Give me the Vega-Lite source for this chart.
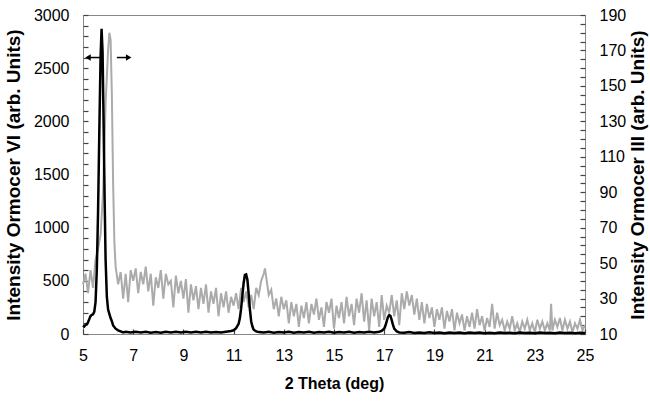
{
  "$schema": "https://vega.github.io/schema/vega-lite/v6.json",
  "width": 502,
  "height": 319,
  "autosize": "none",
  "padding": {"left": 83, "top": 15, "right": 65, "bottom": 67},
  "config": {
    "font": "Liberation Sans",
    "view": {"stroke": "#888888", "strokeWidth": 1},
    "axis": {"labelFont": "Liberation Sans", "titleFont": "Liberation Sans", "labelColor": "#000000", "titleColor": "#000000", "domain": false, "ticks": true, "tickColor": "#444444", "tickWidth": 1.2, "tickSize": 5, "offset": -5, "grid": false, "labelOverlap": false, "labelFlush": false, "format": "d"}
  },
  "datasets": {
    "ormocer_iii": [
      {"t":5.0,"i":38},{"t":5.1,"i":44},{"t":5.2,"i":33},{"t":5.3,"i":46},{"t":5.4,"i":36},{"t":5.5,"i":52},{"t":5.6,"i":58},{"t":5.7,"i":66},{"t":5.8,"i":90},{"t":5.9,"i":140},{"t":6.0,"i":170},{"t":6.05,"i":180},{"t":6.1,"i":176},{"t":6.15,"i":145},{"t":6.2,"i":95},{"t":6.25,"i":62},{"t":6.3,"i":48},{"t":6.4,"i":38},{"t":6.5,"i":45},{"t":6.6,"i":30},{"t":6.7,"i":44},{"t":6.8,"i":28},{"t":6.9,"i":46},{"t":7.0,"i":40},{"t":7.1,"i":47},{"t":7.2,"i":33},{"t":7.3,"i":45},{"t":7.4,"i":38},{"t":7.5,"i":48},{"t":7.6,"i":34},{"t":7.7,"i":44},{"t":7.8,"i":26},{"t":7.9,"i":42},{"t":8.0,"i":36},{"t":8.1,"i":46},{"t":8.2,"i":30},{"t":8.3,"i":44},{"t":8.4,"i":38},{"t":8.5,"i":40},{"t":8.6,"i":25},{"t":8.7,"i":43},{"t":8.8,"i":33},{"t":8.9,"i":40},{"t":9.0,"i":30},{"t":9.1,"i":41},{"t":9.2,"i":22},{"t":9.3,"i":38},{"t":9.4,"i":29},{"t":9.5,"i":37},{"t":9.6,"i":24},{"t":9.7,"i":36},{"t":9.8,"i":27},{"t":9.9,"i":38},{"t":10.0,"i":22},{"t":10.1,"i":34},{"t":10.2,"i":27},{"t":10.3,"i":36},{"t":10.4,"i":20},{"t":10.5,"i":33},{"t":10.6,"i":25},{"t":10.7,"i":34},{"t":10.8,"i":22},{"t":10.9,"i":31},{"t":11.0,"i":26},{"t":11.1,"i":33},{"t":11.2,"i":24},{"t":11.3,"i":36},{"t":11.4,"i":28},{"t":11.5,"i":34},{"t":11.6,"i":25},{"t":11.7,"i":32},{"t":11.8,"i":24},{"t":11.9,"i":36},{"t":12.0,"i":32},{"t":12.1,"i":40},{"t":12.2,"i":44},{"t":12.25,"i":47},{"t":12.3,"i":42},{"t":12.4,"i":32},{"t":12.5,"i":35},{"t":12.6,"i":24},{"t":12.7,"i":30},{"t":12.8,"i":20},{"t":12.9,"i":31},{"t":13.0,"i":24},{"t":13.1,"i":29},{"t":13.2,"i":16},{"t":13.3,"i":28},{"t":13.4,"i":20},{"t":13.5,"i":27},{"t":13.6,"i":14},{"t":13.7,"i":26},{"t":13.8,"i":19},{"t":13.9,"i":28},{"t":14.0,"i":16},{"t":14.1,"i":27},{"t":14.2,"i":21},{"t":14.3,"i":30},{"t":14.4,"i":18},{"t":14.5,"i":25},{"t":14.6,"i":14},{"t":14.7,"i":28},{"t":14.8,"i":22},{"t":14.9,"i":30},{"t":15.0,"i":13},{"t":15.1,"i":26},{"t":15.2,"i":19},{"t":15.3,"i":28},{"t":15.4,"i":16},{"t":15.5,"i":31},{"t":15.6,"i":20},{"t":15.7,"i":27},{"t":15.8,"i":15},{"t":15.9,"i":30},{"t":16.0,"i":22},{"t":16.1,"i":33},{"t":16.2,"i":17},{"t":16.3,"i":29},{"t":16.4,"i":12},{"t":16.5,"i":30},{"t":16.6,"i":20},{"t":16.7,"i":28},{"t":16.8,"i":14},{"t":16.9,"i":32},{"t":17.0,"i":18},{"t":17.1,"i":26},{"t":17.2,"i":22},{"t":17.3,"i":32},{"t":17.4,"i":20},{"t":17.5,"i":29},{"t":17.6,"i":15},{"t":17.7,"i":33},{"t":17.8,"i":24},{"t":17.9,"i":34},{"t":18.0,"i":26},{"t":18.1,"i":32},{"t":18.2,"i":21},{"t":18.3,"i":30},{"t":18.4,"i":18},{"t":18.5,"i":28},{"t":18.6,"i":16},{"t":18.7,"i":27},{"t":18.8,"i":19},{"t":18.9,"i":25},{"t":19.0,"i":14},{"t":19.1,"i":24},{"t":19.2,"i":18},{"t":19.3,"i":25},{"t":19.4,"i":13},{"t":19.5,"i":23},{"t":19.6,"i":17},{"t":19.7,"i":24},{"t":19.8,"i":12},{"t":19.9,"i":22},{"t":20.0,"i":16},{"t":20.1,"i":21},{"t":20.2,"i":12},{"t":20.3,"i":20},{"t":20.4,"i":14},{"t":20.5,"i":22},{"t":20.6,"i":13},{"t":20.7,"i":24},{"t":20.8,"i":15},{"t":20.9,"i":20},{"t":21.0,"i":12},{"t":21.1,"i":19},{"t":21.2,"i":14},{"t":21.3,"i":27},{"t":21.4,"i":13},{"t":21.5,"i":22},{"t":21.6,"i":15},{"t":21.7,"i":18},{"t":21.8,"i":12},{"t":21.9,"i":17},{"t":22.0,"i":13},{"t":22.1,"i":20},{"t":22.2,"i":12},{"t":22.3,"i":16},{"t":22.4,"i":11},{"t":22.5,"i":17},{"t":22.6,"i":13},{"t":22.7,"i":18},{"t":22.8,"i":12},{"t":22.9,"i":16},{"t":23.0,"i":11},{"t":23.1,"i":18},{"t":23.2,"i":13},{"t":23.3,"i":17},{"t":23.4,"i":12},{"t":23.5,"i":16},{"t":23.6,"i":12},{"t":23.65,"i":27},{"t":23.7,"i":12},{"t":23.8,"i":18},{"t":23.9,"i":14},{"t":24.0,"i":19},{"t":24.1,"i":12},{"t":24.2,"i":18},{"t":24.3,"i":13},{"t":24.4,"i":17},{"t":24.5,"i":11},{"t":24.6,"i":16},{"t":24.7,"i":13},{"t":24.8,"i":18},{"t":24.9,"i":12},{"t":25.0,"i":15}
    ],
    "ormocer_vi": [
      {"t":5.0,"i":80},{"t":5.05,"i":70},{"t":5.1,"i":85},{"t":5.15,"i":90},{"t":5.2,"i":110},{"t":5.25,"i":140},{"t":5.3,"i":170},{"t":5.35,"i":180},{"t":5.4,"i":185},{"t":5.45,"i":210},{"t":5.5,"i":300},{"t":5.55,"i":600},{"t":5.6,"i":1150},{"t":5.65,"i":1900},{"t":5.7,"i":2600},{"t":5.74,"i":2870},{"t":5.78,"i":2650},{"t":5.82,"i":2000},{"t":5.86,"i":1300},{"t":5.9,"i":700},{"t":5.95,"i":350},{"t":6.0,"i":230},{"t":6.05,"i":190},{"t":6.1,"i":150},{"t":6.15,"i":120},{"t":6.2,"i":80},{"t":6.3,"i":50},{"t":6.4,"i":35},{"t":6.5,"i":25},{"t":6.6,"i":15},{"t":6.7,"i":20},{"t":6.9,"i":15},{"t":7.1,"i":20},{"t":7.3,"i":15},{"t":7.5,"i":20},{"t":7.7,"i":12},{"t":7.9,"i":18},{"t":8.1,"i":12},{"t":8.3,"i":20},{"t":8.5,"i":15},{"t":8.7,"i":22},{"t":8.9,"i":15},{"t":9.1,"i":20},{"t":9.3,"i":14},{"t":9.5,"i":22},{"t":9.7,"i":15},{"t":9.9,"i":20},{"t":10.1,"i":14},{"t":10.3,"i":18},{"t":10.5,"i":15},{"t":10.7,"i":22},{"t":10.9,"i":28},{"t":11.0,"i":35},{"t":11.1,"i":55},{"t":11.2,"i":95},{"t":11.25,"i":150},{"t":11.3,"i":240},{"t":11.35,"i":360},{"t":11.4,"i":480},{"t":11.45,"i":555},{"t":11.5,"i":560},{"t":11.55,"i":510},{"t":11.6,"i":380},{"t":11.65,"i":230},{"t":11.7,"i":120},{"t":11.75,"i":70},{"t":11.8,"i":40},{"t":11.9,"i":25},{"t":12.0,"i":18},{"t":12.2,"i":14},{"t":12.4,"i":20},{"t":12.6,"i":12},{"t":12.8,"i":18},{"t":13.0,"i":14},{"t":13.2,"i":20},{"t":13.4,"i":12},{"t":13.6,"i":18},{"t":13.8,"i":14},{"t":14.0,"i":20},{"t":14.2,"i":12},{"t":14.4,"i":18},{"t":14.6,"i":14},{"t":14.8,"i":20},{"t":15.0,"i":12},{"t":15.2,"i":18},{"t":15.4,"i":14},{"t":15.6,"i":20},{"t":15.8,"i":12},{"t":16.0,"i":18},{"t":16.2,"i":14},{"t":16.4,"i":20},{"t":16.6,"i":15},{"t":16.8,"i":22},{"t":16.9,"i":30},{"t":17.0,"i":50},{"t":17.05,"i":80},{"t":17.1,"i":120},{"t":17.15,"i":160},{"t":17.2,"i":178},{"t":17.25,"i":170},{"t":17.3,"i":130},{"t":17.35,"i":85},{"t":17.4,"i":50},{"t":17.5,"i":25},{"t":17.6,"i":15},{"t":17.8,"i":12},{"t":18.0,"i":18},{"t":18.2,"i":10},{"t":18.4,"i":15},{"t":18.6,"i":10},{"t":18.8,"i":16},{"t":19.0,"i":10},{"t":19.2,"i":14},{"t":19.4,"i":8},{"t":19.6,"i":14},{"t":19.8,"i":10},{"t":20.0,"i":15},{"t":20.2,"i":8},{"t":20.4,"i":14},{"t":20.6,"i":10},{"t":20.8,"i":15},{"t":21.0,"i":8},{"t":21.2,"i":12},{"t":21.4,"i":8},{"t":21.6,"i":14},{"t":21.8,"i":10},{"t":22.0,"i":12},{"t":22.2,"i":8},{"t":22.4,"i":14},{"t":22.6,"i":10},{"t":22.8,"i":12},{"t":23.0,"i":8},{"t":23.2,"i":14},{"t":23.4,"i":10},{"t":23.6,"i":12},{"t":23.8,"i":8},{"t":24.0,"i":14},{"t":24.2,"i":10},{"t":24.4,"i":12},{"t":24.6,"i":8},{"t":24.8,"i":12},{"t":25.0,"i":10}
    ],
    "arrows": [
      {"from":5.68,"to":5.24,"tip":5.2,"i":2600,"dir":"left"},
      {"from":6.35,"to":6.78,"tip":6.82,"i":2600,"dir":"right"}
    ]
  },
  "layer": [
    {
      "data": {"name": "ormocer_iii"},
      "mark": {"type": "line", "color": "#ababab", "strokeWidth": 2},
      "encoding": {
        "x": {"field": "t", "type": "quantitative", "scale": {"domain": [5, 25], "nice": false, "zero": false},
          "axis": {"title": "2 Theta (deg)", "titleFontSize": 16, "titleFontWeight": "bold", "titlePadding": 12, "labelFontSize": 16, "labelPadding": 13, "labelOverlap": false,
            "values": [5,5.25,5.5,5.75,6,6.25,6.5,6.75,7,7.25,7.5,7.75,8,8.25,8.5,8.75,9,9.25,9.5,9.75,10,10.25,10.5,10.75,11,11.25,11.5,11.75,12,12.25,12.5,12.75,13,13.25,13.5,13.75,14,14.25,14.5,14.75,15,15.25,15.5,15.75,16,16.25,16.5,16.75,17,17.25,17.5,17.75,18,18.25,18.5,18.75,19,19.25,19.5,19.75,20,20.25,20.5,20.75,21,21.25,21.5,21.75,22,22.25,22.5,22.75,23,23.25,23.5,23.75,24,24.25,24.5,24.75,25],
            "labelExpr": "datum.value % 2 == 1 ? format(datum.value, 'd') : ''"}},
        "y": {"field": "i", "type": "quantitative", "scale": {"domain": [10, 190], "nice": false, "zero": false},
          "axis": {"orient": "right", "title": "Intensity Ormocer III (arb. Units)", "titleAngle": 270, "titleFontSize": 19, "titleFontWeight": "bold", "titlePadding": 22, "labelFontSize": 16, "labelPadding": 14, "labelOverlap": false,
            "values": [10,15,20,25,30,35,40,45,50,55,60,65,70,75,80,85,90,95,100,105,110,115,120,125,130,135,140,145,150,155,160,165,170,175,180,185,190],
            "labelExpr": "(datum.value - 10) % 20 == 0 ? format(datum.value, 'd') : ''"}}
      }
    },
    {
      "encoding": {
        "y": {"field": "i", "type": "quantitative", "scale": {"domain": [0, 3000], "nice": false, "zero": false},
          "axis": {"orient": "left", "title": "Intensity Ormocer VI (arb. Units)", "titleFontSize": 19, "titleFontWeight": "bold", "titlePadding": 10, "labelFontSize": 16, "labelPadding": 14, "labelOverlap": false,
            "values": [0,100,200,300,400,500,600,700,800,900,1000,1100,1200,1300,1400,1500,1600,1700,1800,1900,2000,2100,2200,2300,2400,2500,2600,2700,2800,2900,3000],
            "labelExpr": "datum.value % 500 == 0 ? format(datum.value, 'd') : ''"}}
      },
      "layer": [
        {
          "data": {"name": "ormocer_vi"},
          "mark": {"type": "line", "color": "#000000", "strokeWidth": 2.5},
          "encoding": {
            "x": {"field": "t", "type": "quantitative"}
          }
        },
        {
          "data": {"name": "arrows"},
          "mark": {"type": "rule", "color": "#000000", "strokeWidth": 1.5},
          "encoding": {
            "x": {"field": "from", "type": "quantitative"},
            "x2": {"field": "to"}
          }
        },
        {
          "data": {"name": "arrows"},
          "mark": {"type": "point", "filled": true, "color": "#000000", "size": 40, "opacity": 1},
          "encoding": {
            "x": {"field": "tip", "type": "quantitative"},
            "shape": {"field": "dir", "type": "nominal", "scale": {"domain": ["left", "right"], "range": ["triangle-left", "triangle-right"]}, "legend": null}
          }
        }
      ]
    }
  ],
  "resolve": {"scale": {"y": "independent"}}
}
